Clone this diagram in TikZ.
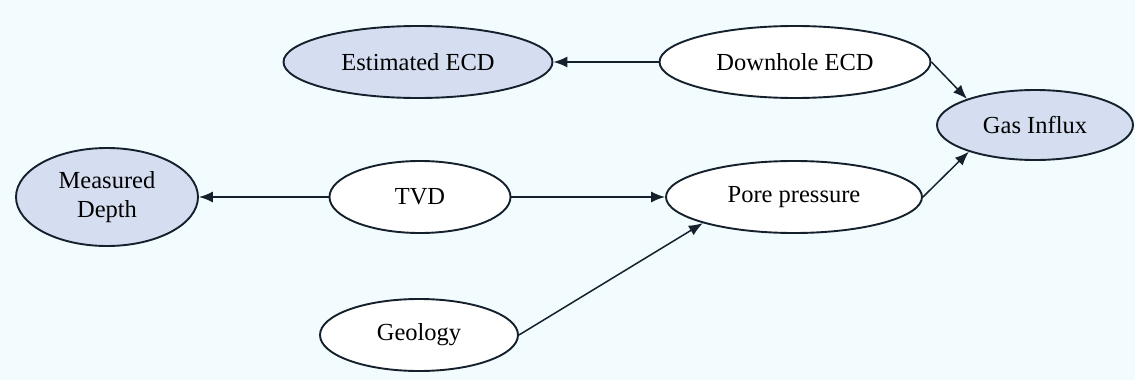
\documentclass[tikz,border=0pt]{standalone}
\usepackage{fontspec}
\setmainfont{Liberation Serif}
\usetikzlibrary{shapes.geometric,arrows.meta}
\definecolor{bgc}{HTML}{F2FBFE}
\definecolor{fillc}{HTML}{D5DEF0}
\definecolor{linec}{HTML}{14202C}
\begin{document}
\begin{tikzpicture}[x=1pt,y=-1pt,
  ell/.style={ellipse,draw=linec,line width=1.9pt,inner sep=0pt,align=center,
     font=\fontsize{24.5}{29}\selectfont,fill=white},
  obs/.style={ell,fill=fillc},
  conn/.style={line width=1.5pt,draw=linec,-{Latex[length=14pt,width=11pt]}}]
\fill[bgc] (0,0) rectangle (1135,380);
\useasboundingbox (0,0) rectangle (1135,380);
\node[obs,minimum width=269pt,minimum height=72pt] (est) at (418,62) {Estimated ECD};
\node[ell,minimum width=271pt,minimum height=72pt] (dh) at (795,62) {Downhole ECD};
\node[obs,minimum width=196pt,minimum height=70pt] (gas) at (1035,125) {Gas Influx};
\node[obs,minimum width=182pt,minimum height=98pt] (md) at (107,197) {Measured\\Depth};
\node[ell,minimum width=181pt,minimum height=72pt] (tvd) at (420,197) {TVD};
\node[ell,minimum width=256pt,minimum height=72pt] (pore) at (794,197) {Pore pressure};
\node[ell,minimum width=198pt,minimum height=72pt] (geo) at (419,335) {Geology};
\draw[conn] (dh.west) -- (est.east);
\draw[conn] (dh.east) -- (gas.159);
\draw[conn] (pore.east) -- (gas.202);
\draw[conn] (tvd.west) -- (md.east);
\draw[conn] (tvd.east) -- (pore.west);
\draw[conn] (geo.east) -- (pore.196);
\end{tikzpicture}
\end{document}
